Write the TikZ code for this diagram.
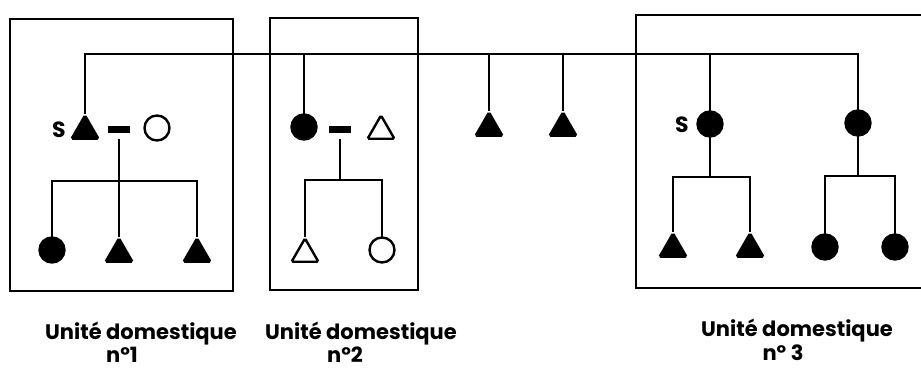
\documentclass[tikz,border=0pt]{standalone}
\usepackage{fontspec}
\setmainfont{Poppins}
\usetikzlibrary{shapes.geometric}
\tikzset{
  kin line/.style={
    line width=2.4pt,
    line cap=rect
  },
  unit box/.style={
    line width=1.6pt
  },
  man/.style={
    draw,
    regular polygon,
    regular polygon sides=3,
    minimum size=31pt,
    inner sep=0pt,
    rounded corners=1.5pt,
    line width=2.4pt
  },
  woman/.style={
    draw,
    circle,
    minimum size=25pt,
    inner sep=0pt,
    line width=2.4pt
  },
  filled/.style={
    fill=black
  },
  marriage/.style={
    rectangle,
    fill=black,
    minimum width=22pt,
    minimum height=7pt,
    inner sep=0pt,
    outer ysep=8pt
  },
  ego mark/.style={
    font=\fontsize{22}{22}\selectfont\bfseries
  },
  unit label/.style={
    anchor=base,
    inner sep=1pt,
    font=\fontsize{21}{24}\selectfont\bfseries
  }
}

\begin{document}
\begin{tikzpicture}[x=1pt, y=-1pt]
    \useasboundingbox (0,0) rectangle (921,370);

    % 三个单位的方框
    \draw[unit box] (10,19) rectangle (233,291);
    \draw[unit box] (270,18) rectangle (418,290);
    \draw[unit box] (921,15) -| (636,288) -- (921,288);

    % 单位1：夫妇
    \node[man, filled] (s1) at (85,131) {};
    \node[ego mark] (s1mark) at (59,130) {S};
    \node[marriage] (eq1) at (119,129) {};
    \node[woman] (w1) at (157,128) {};
    % 单位1：子女
    \coordinate (j1) at (119,181);
    \node[woman, filled] (c11) at (52,250) {};
    \node[man, filled] (c12) at (119,254) {};
    \node[man, filled] (c13) at (197,254) {};
    \draw[kin line] (c11.north) |- (j1) -| (c13.north);
    \draw[kin line] (eq1.south) -- (c12.north);

    % 单位2：夫妇
    \node[woman, filled] (f2) at (304,127) {};
    \node[marriage] (eq2) at (340,129) {};
    \node[man] (h2) at (381,131) {};
    % 单位2：子女
    \coordinate (j2) at (340,180);
    \node[man] (c21) at (305,254) {};
    \node[woman] (c22) at (382,250) {};
    \draw[kin line] (eq2.south) -- (j2);
    \draw[kin line] (c21.north) |- (j2) -| (c22.north);

    % 中间的两个兄弟
    \node[man, filled] (m1) at (489,128) {};
    \node[man, filled] (m2) at (563,128) {};

    % 单位3：两姐妹
    \node[woman, filled] (s3) at (710,124) {};
    \node[ego mark] (s3mark) at (682,125) {S};
    \node[woman, filled] (f3) at (858,123) {};
    % 单位3：子女
    \coordinate (j3) at (710,177);
    \node[man, filled] (c31) at (673,249) {};
    \node[man, filled] (c32) at (750,249) {};
    \draw[kin line] (s3.south) -- (j3);
    \draw[kin line] (c31.north) |- (j3) -| (c32.north);
    \coordinate (j4) at (858,176);
    \node[woman, filled] (c33) at (825,247) {};
    \node[woman, filled] (c34) at (895,247) {};
    \draw[kin line] (f3.south) -- (j4);
    \draw[kin line] (c33.north) |- (j4) -| (c34.north);

    % 顶部横线
    \coordinate (tl) at (85,54);
    \coordinate (tr) at (858,54);
    \draw[kin line] (s1.north) -- (tl) -- (tr) -- (f3.north);
    \foreach \n in {f2, m1, m2, s3} {
      \draw[kin line] (\n.north) -- (\n.north |- tl);
    }

    % 标注
    \node[unit label] (lab1) at (141,339) {Unité domestique};
    \node[unit label] (no1) at (122,362) {nº1};
    \node[unit label] (lab2) at (361,339) {Unité domestique};
    \node[unit label] (no2) at (345,362) {nº2};
    \node[unit label] (lab3) at (797,336) {Unité domestique};
    \node[unit label] (no3) at (783,360) {nº 3};

  \end{tikzpicture}
\end{document}
